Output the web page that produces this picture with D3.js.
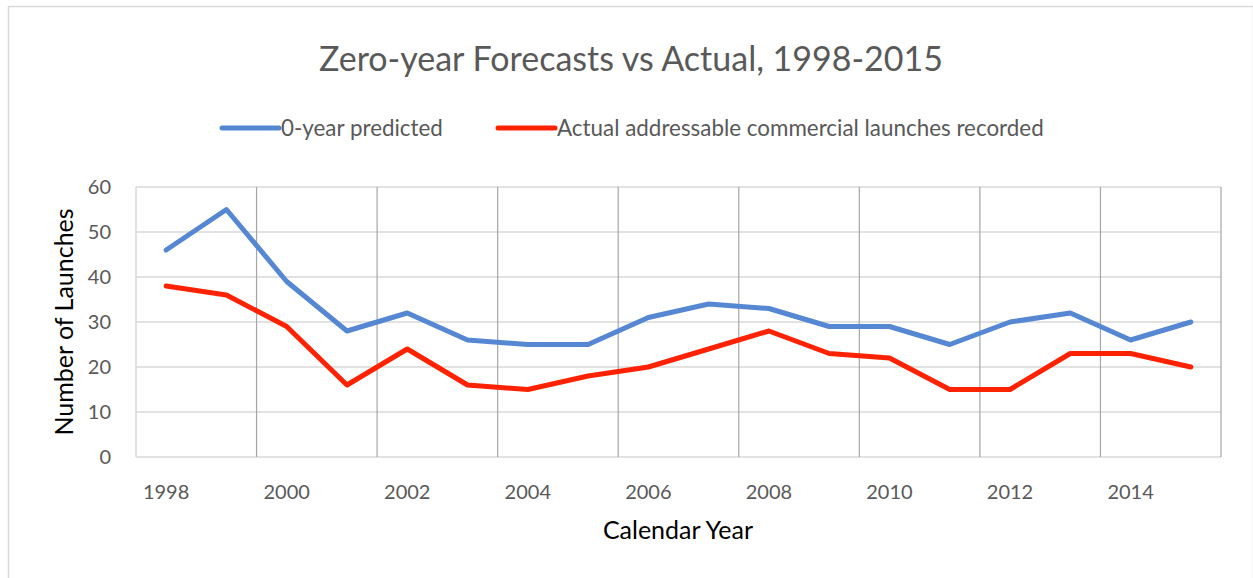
<!DOCTYPE html>
<html>
<head>
<meta charset="utf-8">
<script src="https://cdn.jsdelivr.net/npm/d3@7"></script>
<style>
  body { margin: 0; background: #fff; }
  text { font-family: Lato, "Open Sans", sans-serif; }
</style>
</head>
<body>
<div id="container"></div>
<script>
let years = [1998, 1999, 2000, 2001, 2002, 2003, 2004, 2005, 2006, 2007, 2008, 2009, 2010, 2011, 2012, 2013, 2014, 2015];
let predicted = [46, 55, 39, 28, 32, 26, 25, 25, 31, 34, 33, 29, 29, 25, 30, 32, 26, 30];
let actual = [38, 36, 29, 16, 24, 16, 15, 18, 20, 24, 28, 23, 22, 15, 15, 23, 23, 20];
let yTicks = [0, 10, 20, 30, 40, 50, 60];
let seriesNames = ["0-year predicted", "Actual addressable commercial launches recorded"];

let w = 1253;
let h = 578;
let plotLeft = 136, plotRight = 1221, plotTop = 187, plotBottom = 457;

let viz = d3.select("#container")
  .append("svg")
    .attr("width", w)
    .attr("height", h)
;

// outer chart frame
viz.append("rect")
  .attr("x", 8.5).attr("y", 6.5)
  .attr("width", w - 8).attr("height", h)
  .attr("fill", "none")
  .attr("stroke", "#d9d9d9")
  .attr("stroke-width", 1.5)
;

let xScale = d3.scaleBand().domain(years).range([plotLeft, plotRight]).padding(0);
let yScale = d3.scaleLinear().domain([0, 60]).range([plotBottom, plotTop]);

// horizontal gridlines
viz.append("g").selectAll("line").data(yTicks).enter()
  .append("line")
    .attr("x1", plotLeft).attr("x2", plotRight)
    .attr("y1", d => yScale(d)).attr("y2", d => yScale(d))
    .attr("stroke", "#d9d9d9")
    .attr("stroke-width", 1.5)
;

// vertical gridlines every two categories
let vLines = years.filter((d, i) => i % 2 == 0 && i > 0).map(d => xScale(d));
vLines.push(plotRight);
viz.append("line")
  .attr("x1", plotLeft).attr("x2", plotLeft)
  .attr("y1", plotTop).attr("y2", plotBottom)
  .attr("stroke", "#d9d9d9").attr("stroke-width", 1.5);
viz.append("g").selectAll("line").data(vLines).enter()
  .append("line")
    .attr("x1", d => d).attr("x2", d => d)
    .attr("y1", plotTop).attr("y2", plotBottom)
    .attr("stroke", "#a6a6a6")
    .attr("stroke-width", 1.2)
;

// y tick labels
viz.append("g").selectAll("text").data(yTicks).enter()
  .append("text")
    .attr("x", 111)
    .attr("y", d => yScale(d) + 7)
    .attr("text-anchor", "end")
    .attr("font-size", 20)
    .attr("fill", "#595959")
    .text(d => d)
;

// x tick labels
viz.append("g").selectAll("text").data(years.filter((d, i) => i % 2 == 0)).enter()
  .append("text")
    .attr("x", d => xScale(d) + xScale.bandwidth() / 2)
    .attr("y", 499)
    .attr("text-anchor", "middle")
    .attr("font-size", 20)
    .attr("fill", "#595959")
    .text(d => d)
;

let lineMaker = d3.line()
  .x((d, i) => xScale(years[i]) + xScale.bandwidth() / 2)
  .y(d => yScale(d))
;

let colors = ["#5687d3", "#ff2200"];
[predicted, actual].forEach(function(series, i){
  viz.append("path")
    .datum(series)
    .attr("d", lineMaker)
    .attr("fill", "none")
    .attr("stroke", colors[i])
    .attr("stroke-width", 5)
    .attr("stroke-linejoin", "round")
    .attr("stroke-linecap", "round")
  ;
});

// title
viz.append("text")
  .attr("x", 631).attr("y", 71)
  .attr("text-anchor", "middle")
  .attr("font-size", 34)
  .attr("fill", "#595959")
  .text("Zero-year Forecasts vs Actual, 1998-2015")
;

// legend
let legendX = [222, 498];
seriesNames.forEach(function(name, i){
  viz.append("line")
    .attr("x1", legendX[i]).attr("x2", legendX[i] + 57)
    .attr("y1", 128).attr("y2", 128)
    .attr("stroke", colors[i])
    .attr("stroke-width", 5)
    .attr("stroke-linecap", "round");
  viz.append("text")
    .attr("x", legendX[i] + 59).attr("y", 136)
    .attr("font-size", 22.4)
    .attr("fill", "#595959")
    .text(name);
});

// axis titles
viz.append("text")
  .attr("transform", "translate(73,322) rotate(-90)")
  .attr("text-anchor", "middle")
  .attr("font-size", 25)
  .attr("fill", "#000")
  .text("Number of Launches")
;
viz.append("text")
  .attr("x", 678).attr("y", 539)
  .attr("text-anchor", "middle")
  .attr("font-size", 25)
  .attr("fill", "#000")
  .text("Calendar Year")
;
</script>
</body>
</html>
